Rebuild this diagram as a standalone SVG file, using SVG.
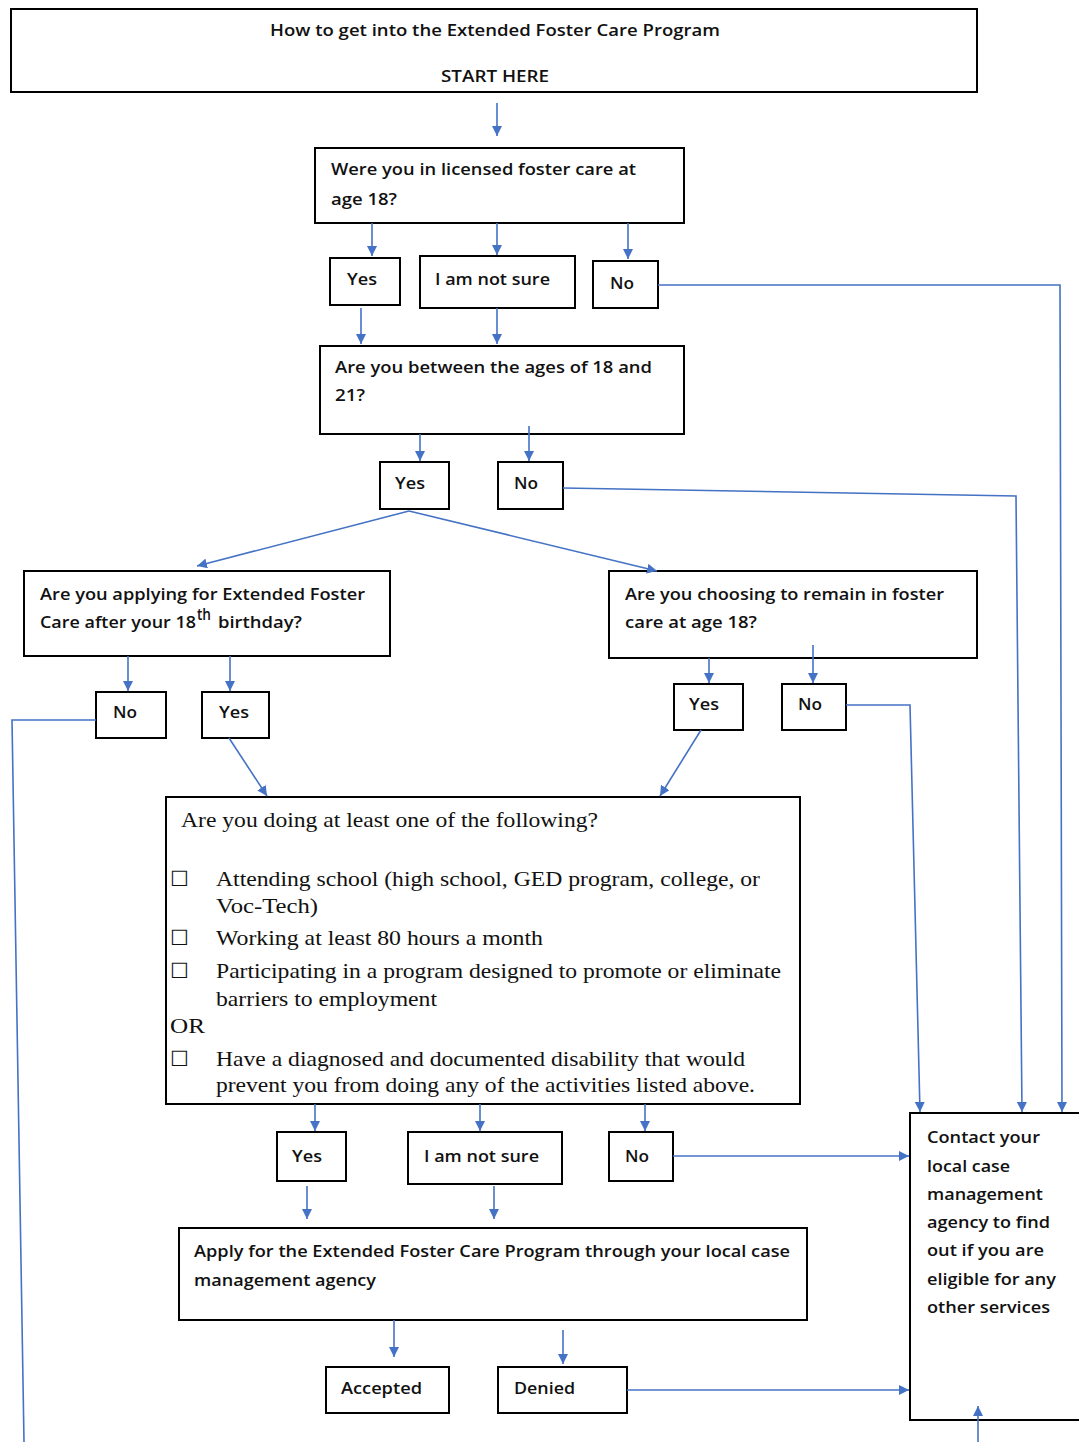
<svg xmlns="http://www.w3.org/2000/svg" width="1079" height="1442" viewBox="0 0 1079 1442">
<style>
.box{fill:#fff;stroke:#000;stroke-width:2}
.t{font-family:"Open Sans","Liberation Sans",sans-serif;font-size:16px;font-weight:600;fill:#111}
.s{font-family:"Liberation Serif","Times New Roman",serif;font-size:21px;fill:#111}
.c{fill:none;stroke:#4472C4;stroke-width:1.6}
</style>
<defs>
<marker id="ah" markerUnits="userSpaceOnUse" markerWidth="10" markerHeight="10" viewBox="0 0 10 10" refX="10" refY="5" orient="auto">
<path d="M0,0 L10,5 L0,10 z" fill="#4472C4"/>
</marker>
</defs>
<g id="start">
<rect class="box" x="11" y="9" width="966" height="83"/>
<text class="t" x="270" y="36" font-weight="bold" textLength="450" lengthAdjust="spacingAndGlyphs">How to get into the Extended Foster Care Program</text>
<text class="t" x="441" y="82" font-weight="bold" textLength="108" lengthAdjust="spacingAndGlyphs">START HERE</text>
</g>
<g id="q-licensed">
<rect class="box" x="315" y="148" width="369" height="75"/>
<text class="t" x="331" y="175" textLength="305" lengthAdjust="spacingAndGlyphs">Were you in licensed foster care at</text>
<text class="t" x="331" y="205" textLength="66" lengthAdjust="spacingAndGlyphs">age 18?</text>
</g>
<g id="a1-yes">
<rect class="box" x="330" y="258" width="70" height="47"/>
<text class="t" x="347" y="285" textLength="30" lengthAdjust="spacingAndGlyphs">Yes</text>
</g>
<g id="a1-notsure">
<rect class="box" x="420" y="256" width="155" height="52"/>
<text class="t" x="435" y="285" textLength="115" lengthAdjust="spacingAndGlyphs">I am not sure</text>
</g>
<g id="a1-no">
<rect class="box" x="593" y="261" width="65" height="47"/>
<text class="t" x="610" y="289" textLength="24" lengthAdjust="spacingAndGlyphs">No</text>
</g>
<g id="q-ages">
<rect class="box" x="320" y="346" width="364" height="88"/>
<text class="t" x="335" y="373" textLength="317" lengthAdjust="spacingAndGlyphs">Are you between the ages of 18 and</text>
<text class="t" x="335" y="401" textLength="30" lengthAdjust="spacingAndGlyphs">21?</text>
</g>
<g id="a2-yes">
<rect class="box" x="380" y="462" width="69" height="47"/>
<text class="t" x="395" y="489" textLength="30" lengthAdjust="spacingAndGlyphs">Yes</text>
</g>
<g id="a2-no">
<rect class="box" x="498" y="462" width="65" height="47"/>
<text class="t" x="514" y="489" textLength="24" lengthAdjust="spacingAndGlyphs">No</text>
</g>
<g id="q-applying">
<rect class="box" x="24" y="571" width="366" height="85"/>
<text class="t" x="40" y="600" textLength="325" lengthAdjust="spacingAndGlyphs">Are you applying for Extended Foster</text>
<text class="t" x="40" y="628" textLength="156" lengthAdjust="spacingAndGlyphs">Care after your 18</text>
<text class="t" x="197" y="620" font-size="10" textLength="14" lengthAdjust="spacingAndGlyphs">th</text>
<text class="t" x="218" y="628" textLength="84" lengthAdjust="spacingAndGlyphs">birthday?</text>
</g>
<g id="q-remain">
<rect class="box" x="609" y="571" width="368" height="87"/>
<text class="t" x="625" y="600" textLength="319" lengthAdjust="spacingAndGlyphs">Are you choosing to remain in foster</text>
<text class="t" x="625" y="628" textLength="132" lengthAdjust="spacingAndGlyphs">care at age 18?</text>
</g>
<g id="a3-no">
<rect class="box" x="96" y="692" width="70" height="46"/>
<text class="t" x="113" y="718" textLength="24" lengthAdjust="spacingAndGlyphs">No</text>
</g>
<g id="a3-yes">
<rect class="box" x="202" y="692" width="67" height="46"/>
<text class="t" x="219" y="718" textLength="30" lengthAdjust="spacingAndGlyphs">Yes</text>
</g>
<g id="a4-yes">
<rect class="box" x="674" y="684" width="69" height="46"/>
<text class="t" x="689" y="710" textLength="30" lengthAdjust="spacingAndGlyphs">Yes</text>
</g>
<g id="a4-no">
<rect class="box" x="782" y="684" width="64" height="46"/>
<text class="t" x="798" y="710" textLength="24" lengthAdjust="spacingAndGlyphs">No</text>
</g>
<g id="q-activities">
<rect class="box" x="166" y="797" width="634" height="307"/>
<text class="s" x="181" y="827" textLength="417" lengthAdjust="spacingAndGlyphs">Are you doing at least one of the following?</text>
<text class="s" x="170" y="886" font-family="DejaVu Sans" font-size="18">☐</text>
<text class="s" x="216" y="886" textLength="544" lengthAdjust="spacingAndGlyphs">Attending school (high school, GED program, college, or</text>
<text class="s" x="216" y="913" textLength="102" lengthAdjust="spacingAndGlyphs">Voc-Tech)</text>
<text class="s" x="170" y="945" font-family="DejaVu Sans" font-size="18">☐</text>
<text class="s" x="216" y="945" textLength="327" lengthAdjust="spacingAndGlyphs">Working at least 80 hours a month</text>
<text class="s" x="170" y="978" font-family="DejaVu Sans" font-size="18">☐</text>
<text class="s" x="216" y="978" textLength="565" lengthAdjust="spacingAndGlyphs">Participating in a program designed to promote or eliminate</text>
<text class="s" x="216" y="1006" textLength="221" lengthAdjust="spacingAndGlyphs">barriers to employment</text>
<text class="s" x="170" y="1033" textLength="35" lengthAdjust="spacingAndGlyphs">OR</text>
<text class="s" x="170" y="1066" font-family="DejaVu Sans" font-size="18">☐</text>
<text class="s" x="216" y="1066" textLength="529" lengthAdjust="spacingAndGlyphs">Have a diagnosed and documented disability that would</text>
<text class="s" x="216" y="1092" textLength="539" lengthAdjust="spacingAndGlyphs">prevent you from doing any of the activities listed above.</text>
</g>
<g id="a5-yes">
<rect class="box" x="277" y="1132" width="69" height="49"/>
<text class="t" x="292" y="1162" textLength="30" lengthAdjust="spacingAndGlyphs">Yes</text>
</g>
<g id="a5-notsure">
<rect class="box" x="408" y="1132" width="154" height="52"/>
<text class="t" x="424" y="1162" textLength="115" lengthAdjust="spacingAndGlyphs">I am not sure</text>
</g>
<g id="a5-no">
<rect class="box" x="609" y="1132" width="64" height="49"/>
<text class="t" x="625" y="1162" textLength="24" lengthAdjust="spacingAndGlyphs">No</text>
</g>
<g id="apply">
<rect class="box" x="179" y="1228" width="628" height="92"/>
<text class="t" x="194" y="1257" textLength="596" lengthAdjust="spacingAndGlyphs">Apply for the Extended Foster Care Program through your local case</text>
<text class="t" x="194" y="1286" textLength="182" lengthAdjust="spacingAndGlyphs">management agency</text>
</g>
<g id="accepted">
<rect class="box" x="326" y="1367" width="123" height="46"/>
<text class="t" x="341" y="1394" textLength="81" lengthAdjust="spacingAndGlyphs">Accepted</text>
</g>
<g id="denied">
<rect class="box" x="498" y="1367" width="129" height="46"/>
<text class="t" x="514" y="1394" textLength="61" lengthAdjust="spacingAndGlyphs">Denied</text>
</g>
<g id="contact">
<rect class="box" x="910" y="1113" width="175" height="307"/>
<text class="t" x="927" y="1143" textLength="113" lengthAdjust="spacingAndGlyphs">Contact your</text>
<text class="t" x="927" y="1172" textLength="83" lengthAdjust="spacingAndGlyphs">local case</text>
<text class="t" x="927" y="1200" textLength="116" lengthAdjust="spacingAndGlyphs">management</text>
<text class="t" x="927" y="1228" textLength="123" lengthAdjust="spacingAndGlyphs">agency to find</text>
<text class="t" x="927" y="1256" textLength="117" lengthAdjust="spacingAndGlyphs">out if you are</text>
<text class="t" x="927" y="1285" textLength="129" lengthAdjust="spacingAndGlyphs">eligible for any</text>
<text class="t" x="927" y="1313" textLength="123" lengthAdjust="spacingAndGlyphs">other services</text>
</g>
<g id="connectors">
<path class="c" d="M497,103 V136" marker-end="url(#ah)"/>
<path class="c" d="M372,223 V256" marker-end="url(#ah)"/>
<path class="c" d="M497,223 V255" marker-end="url(#ah)"/>
<path class="c" d="M628,223 V259" marker-end="url(#ah)"/>
<path class="c" d="M658,285 H1060 L1062,1112" marker-end="url(#ah)"/>
<path class="c" d="M361,308 V344" marker-end="url(#ah)"/>
<path class="c" d="M497,308 V344" marker-end="url(#ah)"/>
<path class="c" d="M420,434 V461" marker-end="url(#ah)"/>
<path class="c" d="M529,426 V461" marker-end="url(#ah)"/>
<path class="c" d="M563,488 L1016,496 L1022,1112" marker-end="url(#ah)"/>
<path class="c" d="M409,511 L197,566" marker-end="url(#ah)"/>
<path class="c" d="M409,511 L657,571" marker-end="url(#ah)"/>
<path class="c" d="M128,656 V691" marker-end="url(#ah)"/>
<path class="c" d="M230,656 V691" marker-end="url(#ah)"/>
<path class="c" d="M96,720 H12 L24,1442"/>
<path class="c" d="M229,738 L267,796" marker-end="url(#ah)"/>
<path class="c" d="M709,658 V683" marker-end="url(#ah)"/>
<path class="c" d="M813,645 V683" marker-end="url(#ah)"/>
<path class="c" d="M846,705 H910 L920,1112" marker-end="url(#ah)"/>
<path class="c" d="M701,730 L660,796" marker-end="url(#ah)"/>
<path class="c" d="M315,1104 V1131" marker-end="url(#ah)"/>
<path class="c" d="M480,1104 V1131" marker-end="url(#ah)"/>
<path class="c" d="M645,1104 V1131" marker-end="url(#ah)"/>
<path class="c" d="M673,1156 H909" marker-end="url(#ah)"/>
<path class="c" d="M307,1186 V1219" marker-end="url(#ah)"/>
<path class="c" d="M494,1186 V1219" marker-end="url(#ah)"/>
<path class="c" d="M394,1320 V1357" marker-end="url(#ah)"/>
<path class="c" d="M563,1330 V1364" marker-end="url(#ah)"/>
<path class="c" d="M627,1390 H909" marker-end="url(#ah)"/>
<path class="c" d="M978,1442 V1406" marker-end="url(#ah)"/>
</g>
</svg>
